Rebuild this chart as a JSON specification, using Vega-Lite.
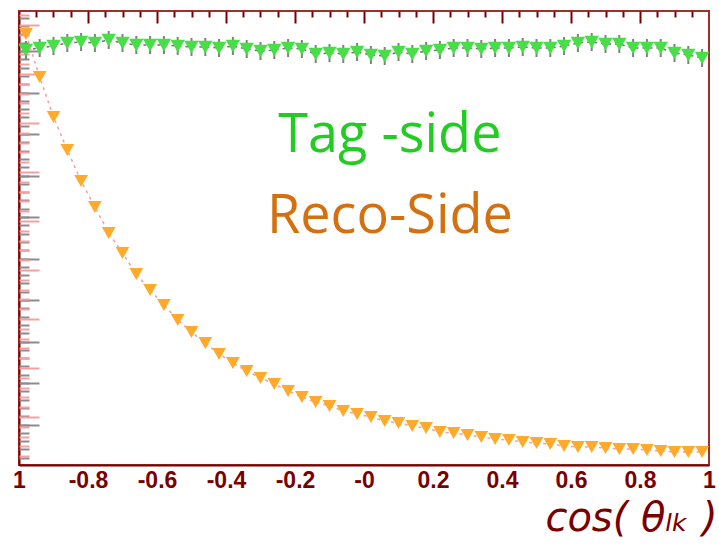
{
  "$schema": "https://vega.github.io/schema/vega-lite/v6.json",
  "width": 690,
  "height": 454,
  "autosize": {"type": "none"},
  "padding": {"left": 19, "top": 11, "right": 10, "bottom": 82},
  "background": "white",
  "config": {"view": {"stroke": "#a0302c", "strokeWidth": 2}, "axis": {"grid": false}},
  "datasets": {
    "pts": [
      {"x": -0.98, "tag": 415, "tagLo": 406, "tagHi": 424, "reco": 431},
      {"x": -0.94, "tag": 417, "tagLo": 408, "tagHi": 426, "reco": 388},
      {"x": -0.90, "tag": 419, "tagLo": 410, "tagHi": 428, "reco": 348},
      {"x": -0.86, "tag": 422, "tagLo": 413, "tagHi": 431, "reco": 315},
      {"x": -0.82, "tag": 423, "tagLo": 414, "tagHi": 432, "reco": 284},
      {"x": -0.78, "tag": 422, "tagLo": 413, "tagHi": 431, "reco": 258},
      {"x": -0.74, "tag": 425, "tagLo": 416, "tagHi": 434, "reco": 232},
      {"x": -0.70, "tag": 422, "tagLo": 413, "tagHi": 431, "reco": 212},
      {"x": -0.66, "tag": 420, "tagLo": 411, "tagHi": 429, "reco": 191},
      {"x": -0.62, "tag": 420, "tagLo": 411, "tagHi": 429, "reco": 175},
      {"x": -0.58, "tag": 420, "tagLo": 411, "tagHi": 429, "reco": 160},
      {"x": -0.54, "tag": 419, "tagLo": 410, "tagHi": 428, "reco": 145},
      {"x": -0.50, "tag": 418, "tagLo": 409, "tagHi": 427, "reco": 133},
      {"x": -0.46, "tag": 418, "tagLo": 409, "tagHi": 427, "reco": 122},
      {"x": -0.42, "tag": 417, "tagLo": 408, "tagHi": 426, "reco": 111},
      {"x": -0.38, "tag": 419, "tagLo": 410, "tagHi": 428, "reco": 102},
      {"x": -0.34, "tag": 416, "tagLo": 407, "tagHi": 425, "reco": 94},
      {"x": -0.30, "tag": 414, "tagLo": 405, "tagHi": 423, "reco": 87},
      {"x": -0.26, "tag": 415, "tagLo": 406, "tagHi": 424, "reco": 81},
      {"x": -0.22, "tag": 417, "tagLo": 408, "tagHi": 426, "reco": 74},
      {"x": -0.18, "tag": 416, "tagLo": 407, "tagHi": 425, "reco": 68},
      {"x": -0.14, "tag": 411, "tagLo": 402, "tagHi": 420, "reco": 63},
      {"x": -0.10, "tag": 412, "tagLo": 403, "tagHi": 421, "reco": 59},
      {"x": -0.06, "tag": 411, "tagLo": 402, "tagHi": 420, "reco": 54},
      {"x": -0.02, "tag": 413, "tagLo": 404, "tagHi": 422, "reco": 51},
      {"x": 0.02, "tag": 410, "tagLo": 401, "tagHi": 419, "reco": 48},
      {"x": 0.06, "tag": 409, "tagLo": 400, "tagHi": 418, "reco": 44},
      {"x": 0.10, "tag": 413, "tagLo": 404, "tagHi": 422, "reco": 42},
      {"x": 0.14, "tag": 411, "tagLo": 402, "tagHi": 420, "reco": 39},
      {"x": 0.18, "tag": 414, "tagLo": 405, "tagHi": 423, "reco": 37},
      {"x": 0.22, "tag": 415, "tagLo": 406, "tagHi": 424, "reco": 33},
      {"x": 0.26, "tag": 417, "tagLo": 408, "tagHi": 426, "reco": 32},
      {"x": 0.30, "tag": 417, "tagLo": 408, "tagHi": 426, "reco": 30},
      {"x": 0.34, "tag": 416, "tagLo": 407, "tagHi": 425, "reco": 28},
      {"x": 0.38, "tag": 417, "tagLo": 408, "tagHi": 426, "reco": 26},
      {"x": 0.42, "tag": 417, "tagLo": 408, "tagHi": 426, "reco": 25},
      {"x": 0.46, "tag": 418, "tagLo": 409, "tagHi": 427, "reco": 23},
      {"x": 0.50, "tag": 417, "tagLo": 408, "tagHi": 426, "reco": 22},
      {"x": 0.54, "tag": 417, "tagLo": 408, "tagHi": 426, "reco": 21},
      {"x": 0.58, "tag": 419, "tagLo": 410, "tagHi": 428, "reco": 19},
      {"x": 0.62, "tag": 422, "tagLo": 413, "tagHi": 431, "reco": 18},
      {"x": 0.66, "tag": 423, "tagLo": 414, "tagHi": 432, "reco": 18},
      {"x": 0.70, "tag": 421, "tagLo": 412, "tagHi": 430, "reco": 17},
      {"x": 0.74, "tag": 421, "tagLo": 412, "tagHi": 430, "reco": 16},
      {"x": 0.78, "tag": 417, "tagLo": 408, "tagHi": 426, "reco": 16},
      {"x": 0.82, "tag": 417, "tagLo": 408, "tagHi": 426, "reco": 15},
      {"x": 0.86, "tag": 417, "tagLo": 408, "tagHi": 426, "reco": 14},
      {"x": 0.90, "tag": 412, "tagLo": 403, "tagHi": 421, "reco": 13},
      {"x": 0.94, "tag": 410, "tagLo": 401, "tagHi": 419, "reco": 13},
      {"x": 0.98, "tag": 407, "tagLo": 398, "tagHi": 416, "reco": 13}
    ],
    "labels": [
      {"x": 0.075, "y": 313, "label": "Tag -side", "series": "tag"},
      {"x": 0.075, "y": 232, "label": "Reco-Side", "series": "reco"}
    ]
  },
  "resolve": {"scale": {"x": "independent", "y": "independent"}, "axis": {"x": "independent", "y": "independent"}},
  "layer": [
    {
      "data": {"name": "pts"},
      "mark": {"type": "rule", "color": "#7f7f7f", "strokeWidth": 2},
      "encoding": {
        "x": {"field": "x", "type": "quantitative", "scale": {"domain": [-1, 1], "nice": false, "zero": false},
          "axis": {"values": [-1, -0.8, -0.6, -0.4, -0.2, 0, 0.2, 0.4, 0.6, 0.8, 1],
            "labelExpr": "datum.value == -1 ? '1' : datum.value == 0 ? '-0' : toString(datum.value)",
            "labelFont": "Liberation Sans", "labelFontSize": 23, "labelFontWeight": "bold", "labelColor": "#7a0000",
            "labelPadding": 4, "labelFlush": false, "labelOverlap": false, "labelBound": false,
            "ticks": false, "domain": true, "domainColor": "#7a0000", "domainWidth": 2,
            "title": "cos( θₗₖ )", "titleFont": "DejaVu Sans", "titleFontSize": 40, "titleFontStyle": "italic",
            "titleFontWeight": "normal", "titleColor": "#7a0000", "titleX": 698, "titleY": 65,
            "titleAlign": "right", "titleBaseline": "alphabetic"}},
        "y": {"field": "tagLo", "type": "quantitative", "scale": {"domain": [0, 454], "nice": false, "zero": false},
          "axis": {"orient": "left", "values": [40.5, 82, 123.5, 165, 206.5, 248, 289.5, 331, 372.5, 414],
            "labels": false, "title": null, "domain": true, "domainColor": "#7a0000", "domainWidth": 2,
            "ticks": true, "tickSize": -20, "tickColor": "#8c8c8c", "tickWidth": 2}},
        "y2": {"field": "tagHi"}
      }
    },
    {
      "data": {"name": "pts"},
      "mark": {"type": "line", "color": "#707070", "strokeWidth": 1.5, "strokeDash": [3, 4]},
      "encoding": {
        "x": {"field": "x", "type": "quantitative", "scale": {"domain": [-1, 1], "nice": false, "zero": false},
          "axis": {"values": [-0.8, -0.6, -0.4, -0.2, 0, 0.2, 0.4, 0.6, 0.8], "labels": false, "title": null,
            "domain": false, "ticks": true, "tickSize": -12, "tickColor": "#7a0000", "tickWidth": 2}},
        "y": {"field": "tag", "type": "quantitative", "scale": {"domain": [0, 454], "nice": false, "zero": false},
          "axis": {"orient": "left", "values": [-1, 7.3, 15.6, 23.9, 32.2, 40.5, 48.8, 57.1, 65.4, 73.7, 82, 90.3, 98.6, 106.9, 115.2, 123.5, 131.8, 140.1, 148.4, 156.7, 165, 173.3, 181.6, 189.9, 198.2, 206.5, 214.8, 223.1, 231.4, 239.7, 248, 256.3, 264.6, 272.9, 281.2, 289.5, 297.8, 306.1, 314.4, 322.7, 331, 339.3, 347.6, 355.9, 364.2, 372.5, 380.8, 389.1, 397.4, 405.7, 414, 422.3, 430.6, 438.9, 447.2],
            "labels": false, "title": null, "domain": false, "ticks": true, "tickSize": -10, "tickColor": "#8c8c8c", "tickWidth": 2}}
      }
    },
    {
      "data": {"name": "pts"},
      "mark": {"type": "point", "shape": "triangle-down", "filled": true, "color": "#47de47", "size": 210, "opacity": 1},
      "encoding": {
        "x": {"field": "x", "type": "quantitative", "scale": {"domain": [-1, 1], "nice": false, "zero": false},
          "axis": {"values": [-0.95, -0.9, -0.85, -0.75, -0.7, -0.65, -0.55, -0.5, -0.45, -0.35, -0.3, -0.25, -0.15, -0.1, -0.05, 0.05, 0.1, 0.15, 0.25, 0.3, 0.35, 0.45, 0.5, 0.55, 0.65, 0.7, 0.75, 0.85, 0.9, 0.95],
            "labels": false, "title": null, "domain": false, "ticks": true, "tickSize": -6, "tickColor": "#7a0000", "tickWidth": 2}},
        "y": {"field": "tag", "type": "quantitative", "scale": {"domain": [0, 454], "nice": false, "zero": false},
          "axis": {"orient": "left", "values": [48, 97, 146, 195, 244, 293, 342, 391, 440],
            "labels": false, "title": null, "domain": false, "ticks": true, "tickSize": -20, "tickColor": "#f4a0a0", "tickWidth": 2}}
      }
    },
    {
      "data": {"name": "pts"},
      "mark": {"type": "line", "color": "#f4a0a0", "strokeWidth": 1.5, "strokeDash": [3, 4]},
      "encoding": {
        "x": {"field": "x", "type": "quantitative", "scale": {"domain": [-1, 1], "nice": false, "zero": false}, "axis": null},
        "y": {"field": "reco", "type": "quantitative", "scale": {"domain": [0, 454], "nice": false, "zero": false},
          "axis": {"orient": "left", "values": [8.8, 18.6, 28.4, 38.2, 57.8, 67.6, 77.4, 87.2, 106.8, 116.6, 126.4, 136.2, 155.8, 165.6, 175.4, 185.2, 204.8, 214.6, 224.4, 234.2, 253.8, 263.6, 273.4, 283.2, 302.8, 312.6, 322.4, 332.2, 351.8, 361.6, 371.4, 381.2, 400.8, 410.6, 420.4, 430.2, 449.8],
            "labels": false, "title": null, "domain": false, "ticks": true, "tickSize": -10, "tickColor": "#f4a0a0", "tickWidth": 2}}
      }
    },
    {
      "data": {"name": "pts"},
      "mark": {"type": "point", "shape": "triangle-down", "filled": true, "color": "#ffaa2a", "size": 190, "opacity": 1},
      "encoding": {
        "x": {"field": "x", "type": "quantitative", "scale": {"domain": [-1, 1], "nice": false, "zero": false}, "axis": null},
        "y": {"field": "reco", "type": "quantitative", "scale": {"domain": [0, 454], "nice": false, "zero": false}, "axis": null}
      }
    },
    {
      "data": {"name": "labels"},
      "mark": {"type": "text", "font": "Open Sans", "fontSize": 54, "align": "center", "baseline": "alphabetic"},
      "encoding": {
        "x": {"field": "x", "type": "quantitative", "scale": {"domain": [-1, 1], "nice": false, "zero": false}, "axis": null},
        "y": {"field": "y", "type": "quantitative", "scale": {"domain": [0, 454], "nice": false, "zero": false}, "axis": null},
        "text": {"field": "label"},
        "color": {"field": "series", "type": "nominal", "scale": {"domain": ["tag", "reco"], "range": ["#22cc22", "#d4700f"]}, "legend": null}
      }
    }
  ]
}
